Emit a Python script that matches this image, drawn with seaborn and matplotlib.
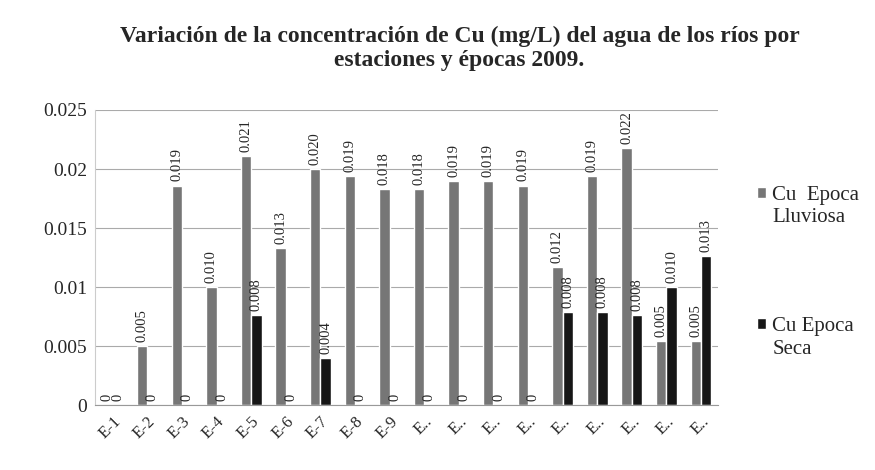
import pandas as pd
import matplotlib
matplotlib.use("Agg")
import matplotlib.pyplot as plt
import seaborn as sns

# datos (mg/L)
estaciones = ['E-1', 'E-2', 'E-3', 'E-4', 'E-5', 'E-6', 'E-7', 'E-8', 'E-9',
              'E-10', 'E-11', 'E-12', 'E-13', 'E-14', 'E-15', 'E-16', 'E-17', 'E-18']
etiquetas_x = ['E-1', 'E-2', 'E-3', 'E-4', 'E-5', 'E-6', 'E-7', 'E-8', 'E-9',
               'E..', 'E..', 'E..', 'E..', 'E..', 'E..', 'E..', 'E..', 'E..']
cu_lluviosa = [0.0, 0.005, 0.0186, 0.0100, 0.0211, 0.0133, 0.0200, 0.0194, 0.0183,
               0.0183, 0.0190, 0.0190, 0.0186, 0.0117, 0.0194, 0.0218, 0.0054, 0.0054]
cu_seca = [0.0, 0.0, 0.0, 0.0, 0.0076, 0.0, 0.0040, 0.0, 0.0,
           0.0, 0.0, 0.0, 0.0, 0.0079, 0.0079, 0.0076, 0.0100, 0.0126]
serie_lluviosa = 'Cu  Epoca'
serie_seca = 'Cu Epoca'
segunda_linea = ['Lluviosa', 'Seca']

df = pd.DataFrame({
    'estacion': estaciones * 2,
    'cu': cu_lluviosa + cu_seca,
    'epoca': [serie_lluviosa] * len(estaciones) + [serie_seca] * len(estaciones),
})

sns.set_style("white")
plt.rcParams['font.family'] = ['Liberation Serif', 'DejaVu Serif']

fig = plt.figure(figsize=(8.75, 4.7), dpi=100)
ax = fig.add_axes([0.109, 0.138, 0.712, 0.628])

sns.barplot(data=df, x='estacion', y='cu', hue='epoca', order=estaciones,
            palette=['#767676', '#161616'], width=0.6, errorbar=None,
            saturation=1, ax=ax)

for cont in ax.containers:
    ax.bar_label(cont, fmt=lambda v: '0' if v == 0 else f'{v:.3f}',
                 rotation=90, padding=3, fontsize=10.5)

ax.set_ylim(0, 0.025)
ax.set_xlim(-0.5, len(estaciones) - 0.5)
ax.set_yticks([0, 0.005, 0.01, 0.015, 0.02, 0.025])
ax.set_yticklabels(['0', '0.005', '0.01', '0.015', '0.02', '0.025'], fontsize=14)
ax.set_xticks(range(len(estaciones)))
ax.set_xticklabels(etiquetas_x, rotation=45, ha='right', rotation_mode='anchor',
                   fontsize=12)
ax.tick_params(axis='both', length=0, pad=6)
ax.yaxis.grid(True, color='#aaaaaa', linewidth=0.8)
ax.set_axisbelow(True)
ax.set_xlabel('')
ax.set_ylabel('')
for s in ['top', 'right']:
    ax.spines[s].set_visible(False)
ax.spines['left'].set_color('#cccccc')
ax.spines['bottom'].set_color('#999999')

# leyenda a la derecha, marcador alineado con la primera línea
leg = ax.legend(loc='upper left', bbox_to_anchor=(0.865, 0.605),
                bbox_transform=fig.transFigure, frameon=False, fontsize=15,
                labelspacing=5.4, handlelength=0.45, handleheight=0.45,
                handletextpad=0.3, borderaxespad=0, borderpad=0)

fig.suptitle('Variación de la concentración de Cu (mg/L) del agua de los ríos por\n'
             'estaciones y épocas 2009.', x=0.525, y=0.945, fontsize=17,
             fontweight='bold', linespacing=1.2)

fig.canvas.draw()
inv = fig.transFigure.inverted()
for txt, linea in zip(leg.get_texts(), segunda_linea):
    bb = txt.get_window_extent()
    x0, y0 = inv.transform((bb.x0, bb.y0))
    fig.text(x0, y0 - 0.008, linea, fontsize=15, ha='left', va='top')

fig.savefig('out.png', dpi=100)
